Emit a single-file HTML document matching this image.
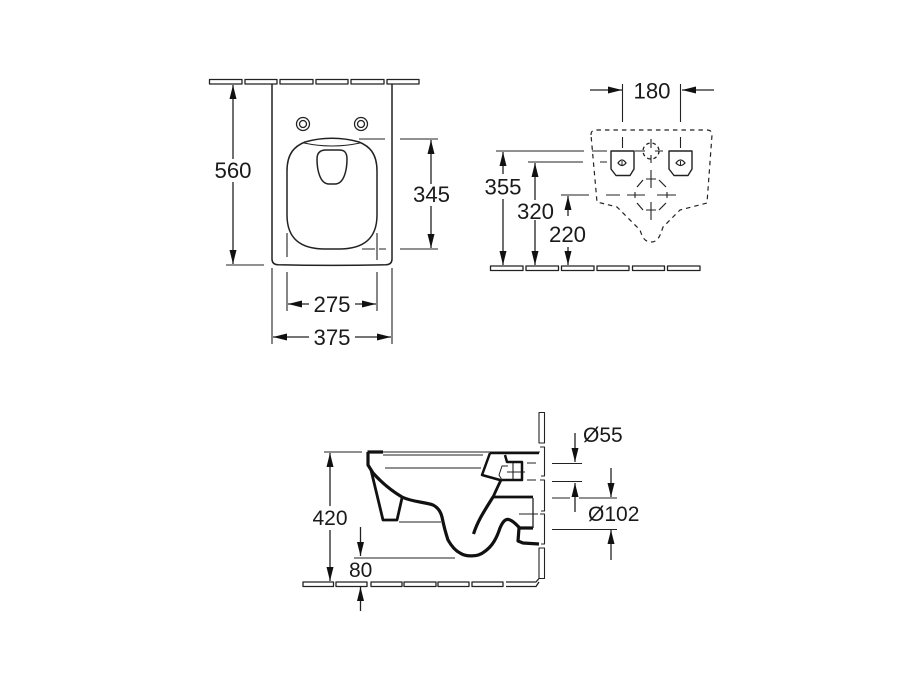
<!DOCTYPE html>
<html><head><meta charset="utf-8"><style>
html,body{margin:0;padding:0;background:#fff;width:922px;height:691px;overflow:hidden}
svg{display:block}
text{font-family:"Liberation Sans",sans-serif;font-size:22.2px;fill:#1a1a1a}
text.s{font-size:21px}
</style></head><body>
<svg width="922" height="691" viewBox="0 0 922 691" xmlns="http://www.w3.org/2000/svg">
<defs>
<marker id="a" viewBox="0 0 14 7" refX="14" refY="3.500" markerWidth="14" markerHeight="7" orient="auto-start-reverse" markerUnits="userSpaceOnUse"><path d="M0 0L14 3.500L0 7Z" fill="#111"/></marker>
</defs>
<g fill="none" stroke="#222" stroke-width="1.300" stroke-linejoin="round">
<!-- top wall -->
<path d="M209.500 79.500H242V84H209.500ZM245 79.500H277V84H245ZM280 79.500H313V84H280ZM316 79.500H348V84H316ZM351 79.500H384V84H351ZM387 79.500H419V84H387Z"/>
<!-- bowl outline -->
<path d="M272 84V259Q272 264.500 278 264.800Q332 266 386 264.800Q392 264.500 392 259V84" stroke-width="1.500"/>
<circle cx="303" cy="124" r="6.500"/><circle cx="303" cy="124" r="3.500"/>
<circle cx="361" cy="124" r="6.500"/><circle cx="361" cy="124" r="3.500"/>
<path d="M287 171C287 153 295 146 305 142C322 137 342 137 359 142C369 146 377 153 377 171V215C377 240 362 249 339 249H325C302 249 287 240 287 215Z" stroke-width="1.500"/>
<path d="M304 143Q332 149 360 143" stroke-width="1"/>
<path d="M317 159C317 152 321 150 326 150H339C344 150 347 152 347 159C347 170 344 184 335 184H329C320 184 317 170 317 159Z" stroke-width="1.500"/>
<!-- top view dims -->
<path d="M226 265H264M359 139H385M400 139H438M362 249H375M379 249H386M400 249H438M377 233V260" stroke-width="1.100"/>
<path d="M287 233V257M272 268V344M392 268V344M287 272V311M377 272V311" stroke-width="1.100"/>
<path d="M233 159V85" marker-end="url(#a)"/><path d="M233 182V264" marker-end="url(#a)"/>
<path d="M431 184V140" marker-end="url(#a)"/><path d="M431 206V248" marker-end="url(#a)"/>
<path d="M309 304H288" marker-end="url(#a)"/><path d="M355 304H376" marker-end="url(#a)"/>
<path d="M309 337H273" marker-end="url(#a)"/><path d="M355 337H391" marker-end="url(#a)"/>
<!-- front wall view -->
<path d="M490.500 266H523V270.500H490.500ZM526 266H558.500V270.500H526ZM561.500 266H594V270.500H561.500ZM597 266H629V270.500H597ZM632.500 266H664.500V270.500H632.500ZM667.500 266H700V270.500H667.500Z"/>
<path d="M590 90H622" marker-end="url(#a)"/><path d="M714 90H682" marker-end="url(#a)"/>
<path d="M622.500 84V122M680.500 84V122M622.500 137V148M680.500 137V148" stroke-width="1.100"/>
<path d="M591 135Q591 130 596 130H707Q712 130 712 135L707 203L680 210L663 227C660 236 658 242 651 242C644 242 642 236 640 230L617 207L597 202Z" stroke-dasharray="4.500 4" stroke-width="1.200"/>
<path d="M611 151H634V169L630 175.500H616L611 169Z" stroke-width="1.400"/>
<path d="M669 151H692V169L688 175.500H674L669 169Z" stroke-width="1.400"/>
<path d="M618 163Q622 157 626 163Q622 168 618 163ZM676 163Q680.500 157 685 163Q680.500 168 676 163Z"/>
<path d="M622 161V165M680.500 161V165" stroke-width="1"/>
<circle cx="651" cy="151" r="8" stroke-dasharray="3.500 3"/>
<path d="M637 187L643 180M659 180L666 187M637 203L643 210M659 210L666 203" stroke-width="1.200"/>
<path d="M651 139V148M651 155V163M635 151H645M655 151H663M651 170V188M651 202V220M646 179H656M646 210H656M606 195H620M627 195H645M657 195H676M635 192V198M667 192V198" stroke-width="1.100"/>
<path d="M496 151H584M592 151H607M528 162H583M600 162H607M561 195H589" stroke-width="1.100"/>
<path d="M503 174V152" marker-end="url(#a)"/><path d="M503 199V265" marker-end="url(#a)"/>
<path d="M535 200V163" marker-end="url(#a)"/><path d="M535 220V265" marker-end="url(#a)"/>
<path d="M568 216V196" marker-end="url(#a)"/><path d="M568 247V265" marker-end="url(#a)"/>
<!-- side view: wall -->
<path d="M303 582H333.500V586.500H303ZM336 582H367V586.500H336ZM371 582H402V586.500H371ZM404 582H436V586.500H404ZM438 582H469V586.500H438ZM472 582H503V586.500H472ZM506 582H536L539 578.500M506 586.500H536L539 582"/>
<path d="M539 412.500H544.500V443H539ZM540 447H544.500V476H541M540 480H544.500V511H541M540 514H544.500V544H541M539 548H544.500V578.500H539Z" stroke-width="1.100"/>
<!-- side view thin -->
<path d="M368 452H540M383 455H483M385 468H481M399 522H441M324 452H362M354 558H455" stroke-width="1.100"/>
<path d="M527 463H536M527 480H536M519 514H538M507 472H525M513 462V480" stroke-width="1.100"/>
<!-- body -->
<path d="M367.500 452H383M368 452L368 465L373 473C382 483 392 491 402 497C412 502 425 502 433 505C439 508 441 513 442 517C444 527 446 534 448 540C452 547 456 551 460 553C466 557 478 557 484 552C493 546 497 537 500 528C503 521 506 518 510 520C515 522 518 527 520 528H533M519 528L518 541L523 543L539 544" stroke="#111" stroke-width="3.200"/>
<path d="M371 470L383 520H397L402 498" stroke="#111" stroke-width="2.800"/>
<path d="M490 453H539M490 453L482 475L500 480L522 480V462H507L505 455" stroke="#111" stroke-width="2.500"/>
<path d="M501 480C497 488 495 493 493 497H533" stroke="#111" stroke-width="2.800"/>
<path d="M493 497C485 510 478 520 473.500 534" stroke="#111" stroke-width="3.200"/>
<path d="M533 498V528" stroke-width="1.300"/>
<path d="M502 480L499 475L502 466H508" stroke-width="1"/>
<!-- side dims -->
<path d="M330 506V453" marker-end="url(#a)"/><path d="M330 530V581" marker-end="url(#a)"/>
<path d="M360.500 527V556" marker-end="url(#a)"/><path d="M360.500 611V587" marker-end="url(#a)"/>
<path d="M575 433V462" marker-end="url(#a)"/><path d="M575 512V483" marker-end="url(#a)"/>
<path d="M611 468V497" marker-end="url(#a)"/><path d="M611 560V530" marker-end="url(#a)"/>
<path d="M552 463.500H582M552 481.500H582M552 498H570M579 498H617M552 529.500H617" stroke-width="1.100"/>
</g>
<g>
<text x="214.500" y="178">560</text>
<text x="413" y="202">345</text>
<text x="313.500" y="312">275</text>
<text x="313.500" y="345">375</text>
<text x="633.500" y="98.500">180</text>
<text x="484.500" y="194.500">355</text>
<text x="517" y="219">320</text>
<text x="549" y="242">220</text>
<text class="s" x="312.500" y="525">420</text>
<text class="s" x="349" y="577">80</text>
<text class="s" x="583" y="442">Ø55</text>
<text class="s" x="588" y="521">Ø102</text>
</g>
</svg>
</body></html>
